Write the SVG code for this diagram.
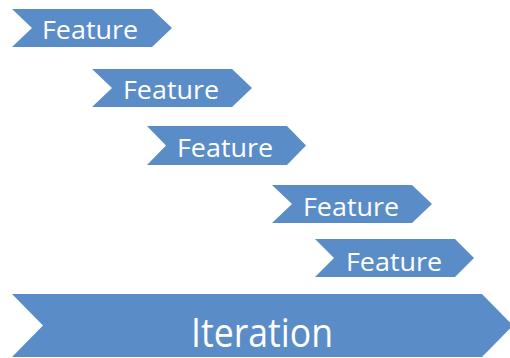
<svg xmlns="http://www.w3.org/2000/svg" width="510" height="358" viewBox="0 0 510 358">
  <style>
    .chev { fill: #5A8DC8; }
    .lbl { fill: #FFFFFF; font-family: "Open Sans", "Noto Sans", "Liberation Sans", sans-serif; }
    .f { font-size: 26px; }
    .it { font-size: 41px; }
  </style>
  <rect width="510" height="358" fill="#FFFFFF"/>
  <g id="feature-1">
    <polygon class="chev" points="12,9 152,9 172,28 152,47 12,47 32,28"/>
    <text class="lbl f" x="42" y="38.5" textLength="96" lengthAdjust="spacingAndGlyphs">Feature</text>
  </g>
  <g id="feature-2">
    <polygon class="chev" points="92,69 232,69 252,88 232,107 92,107 112,88"/>
    <text class="lbl f" x="123" y="98.5" textLength="96" lengthAdjust="spacingAndGlyphs">Feature</text>
  </g>
  <g id="feature-3">
    <polygon class="chev" points="147,126 287,126 306,145.5 287,165 147,165 166,145.5"/>
    <text class="lbl f" x="177" y="156.5" textLength="96" lengthAdjust="spacingAndGlyphs">Feature</text>
  </g>
  <g id="feature-4">
    <polygon class="chev" points="272,185 412,185 432,204 412,223 272,223 292,204"/>
    <text class="lbl f" x="303" y="215.5" textLength="96" lengthAdjust="spacingAndGlyphs">Feature</text>
  </g>
  <g id="feature-5">
    <polygon class="chev" points="315,239 455,239 474,258 455,277 315,277 334,258"/>
    <text class="lbl f" x="346" y="270.5" textLength="96" lengthAdjust="spacingAndGlyphs">Feature</text>
  </g>
  <g id="iteration">
    <polygon class="chev" points="12,294 482,294 513,325.5 482,357 12,357 43,325.5"/>
    <text class="lbl it" x="191" y="347" textLength="142" lengthAdjust="spacingAndGlyphs">Iteration</text>
  </g>
  <g id="connectors"/>
</svg>
